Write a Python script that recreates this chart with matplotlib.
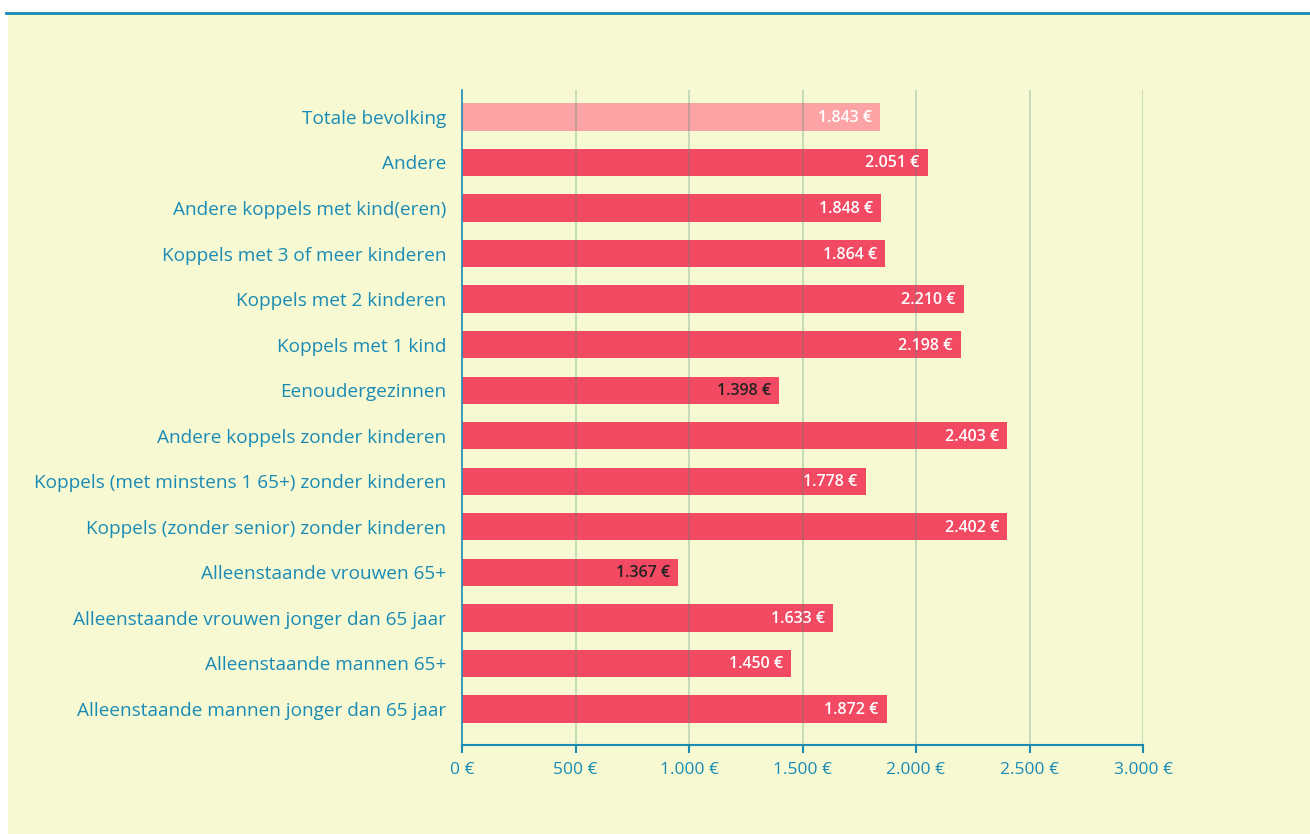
import matplotlib.pyplot as plt

# Data (bottom to top)
categories = [
    "Alleenstaande mannen jonger dan 65 jaar",
    "Alleenstaande mannen 65+",
    "Alleenstaande vrouwen jonger dan 65 jaar",
    "Alleenstaande vrouwen 65+",
    "Koppels (zonder senior) zonder kinderen",
    "Koppels (met minstens 1 65+) zonder kinderen",
    "Andere koppels zonder kinderen",
    "Eenoudergezinnen",
    "Koppels met 1 kind",
    "Koppels met 2 kinderen",
    "Koppels met 3 of meer kinderen",
    "Andere koppels met kind(eren)",
    "Andere",
    "Totale bevolking",
]
# bar lengths as drawn in the picture
bar_values = [1872, 1450, 1633, 952, 2402, 1778, 2403, 1398, 2198, 2210, 1864, 1848, 2051, 1843]
value_labels = ["1.872 €", "1.450 €", "1.633 €", "1.367 €", "2.402 €", "1.778 €", "2.403 €",
                "1.398 €", "2.198 €", "2.210 €", "1.864 €", "1.848 €", "2.051 €", "1.843 €"]
dark_labels = ["1.367 €", "1.398 €"]
xticks = [0, 500, 1000, 1500, 2000, 2500, 3000]
xticklabels = ["0 €", "500 €", "1.000 €", "1.500 €", "2.000 €", "2.500 €", "3.000 €"]

bg = "#f7f9d3"
bar_col = "#f24a62"
light_col = "#fba3a5"
teal = "#1a8bb4"

plt.rcParams['font.family'] = ['Open Sans', 'DejaVu Sans']

fig = plt.figure(figsize=(13.1, 8.34), dpi=100)
fig.patch.set_facecolor("white")
# yellow panel and top rule
panel = plt.Rectangle((8 / 1310, 0), 1, 1 - 14 / 834, transform=fig.transFigure,
                      facecolor=bg, edgecolor="none", zorder=-5)
fig.add_artist(panel)
fig.add_artist(plt.Line2D([6 / 1310, 1], [1 - 12.5 / 834] * 2, transform=fig.transFigure,
                          color="#1a8bb4", lw=2))

ax = fig.add_axes([462 / 1310, 1 - 745 / 834, (1143 - 462) / 1310, (745 - 90) / 834])
ax.set_zorder(2)
ax.set_facecolor("none")

y = list(range(len(categories)))
colors = [bar_col] * (len(categories) - 1) + [light_col]
ax.barh(y, bar_values, height=0.6, color=colors, zorder=2)

for yi, v, lab in zip(y, bar_values, value_labels):
    c = "#222222" if lab in dark_labels else "white"
    ax.annotate(lab, (v, yi), xytext=(-8, -1), textcoords="offset pixels",
                ha="right", va="center", fontsize=11.5, fontweight="semibold", color=c, zorder=4)

ax.set_xlim(0, 3000)
ax.set_ylim(-0.79, 13.59)
ax.set_xticks(xticks)
ax.set_xticklabels(xticklabels, color=teal, fontsize=12.5)
ax.set_yticks(y)
ax.set_yticklabels(categories, color=teal, fontsize=13.7)
ax.tick_params(axis="y", length=0, pad=11.5)
ax.tick_params(axis="x", length=6, color=teal, width=1.5, pad=6)

for xt in xticks[1:]:
    ax.axvline(xt, color="#3c8a78", alpha=0.32, lw=1.2, zorder=3)

for s in ["top", "right"]:
    ax.spines[s].set_visible(False)
ax.spines["left"].set_color(teal)
ax.spines["left"].set_linewidth(1.2)
ax.spines["bottom"].set_color(teal)
ax.spines["bottom"].set_linewidth(1.5)

plt.savefig("out.png", dpi=100, facecolor=fig.get_facecolor())
